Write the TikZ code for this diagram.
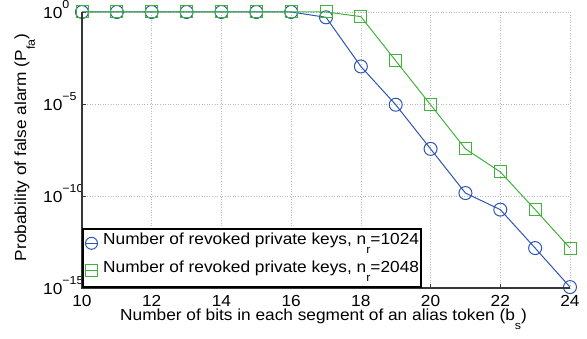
\documentclass[tikz,border=0pt]{standalone}
\usepackage{fontspec}
\setmainfont{Liberation Sans}[FakeStretch=1.08]
\usetikzlibrary{plotmarks}
\definecolor{serA}{RGB}{45,85,180}
\definecolor{serB}{RGB}{65,178,60}
\definecolor{axisgray}{RGB}{55,55,55}
\newcommand{\upidx}[1]{\raisebox{10pt}{\fontsize{11.5}{12}\selectfont #1}}
\newcommand{\dnidx}[1]{\raisebox{-9pt}{\fontsize{11.5}{12}\selectfont #1}}
\begin{document}
\begin{tikzpicture}[x=1pt,y=1pt,
  gridline/.style={gray!55, line width=0.7pt, dash pattern=on 1pt off 1.6pt},
  axisline/.style={axisgray, line width=1.3pt},
  tickmark/.style={axisgray, line width=0.8pt},
  curveA/.style={serA, line width=1pt, mark=o, mark size=6.5pt},
  curveB/.style={serB, line width=1pt, mark=square, mark size=6pt},
  ticklabel/.style={font=\fontsize{16}{18}\selectfont, inner sep=0pt},
  axislabel/.style={font=\fontsize{16}{18}\selectfont, inner sep=0pt},
  legendtext/.style={font=\fontsize{16}{18}\selectfont, inner sep=0pt, anchor=base west},
  legendbox/.style={draw=black, fill=white, line width=1.4pt}]
\useasboundingbox (0,0) rectangle (587,339);

% data area: x in bits, y in decades (log10 of probability)
\begin{scope}[x=34.857pt, y=18.4pt, shift={(-266.57pt,327pt)}]
  % dotted grid
  \foreach \gx in {12,14,...,24} \draw[gridline] (\gx,0) -- (\gx,-15);
  \foreach \gy in {0,-5,-10} \draw[gridline] (10,\gy) -- (24,\gy);

  % tick marks
  \foreach \gx in {12,14,...,22} \draw[tickmark] (\gx,-15) -- ++(0,4pt);
  \foreach \gy in {0,-5,-10} \draw[tickmark] (10,\gy) -- ++(4pt,0);

  % n_r = 1024
  \draw[curveA] plot coordinates {(10,0) (11,0) (12,0) (13,0) (14,0) (15,0) (16,0)
    (17,-0.29) (18,-2.96) (19,-5.04) (20,-7.44) (21,-9.84) (22,-10.74) (23,-12.83) (24,-14.95)};
  % n_r = 2048
  \draw[curveB] plot coordinates {(10,0) (11,0) (12,0) (13,0) (14,0) (15,0) (16,0)
    (17,0) (18,-0.25) (19,-2.65) (20,-5.04) (21,-7.44) (22,-8.69) (23,-10.74) (24,-12.83)};

  % x tick labels
  \foreach \gx in {10,12,...,24}
    \node[ticklabel, anchor=base] (xt\gx) at ([yshift=-18.7pt]\gx,-15) {\gx};
  % y tick labels
  \foreach \gy/\lab in {0/0,-5/−5,-10/−10,-15/−15}
    \node[ticklabel, anchor=base west] (yt\lab) at ([yshift=-6.5pt]10,\gy) [xshift=-39pt] {10\upidx{\lab}};
\end{scope}

% axes
\draw[axisline] (82,327) -- (82,51) -- (570,51);

% legend
\draw[legendbox] (83,52) rectangle (421,110);
\draw[serA, line width=1pt] (85,95.7) -- (98,95.7);
\draw[serA, line width=1pt] (91.5,95.7) circle (6pt);
\draw[serB, line width=1pt] (85,68) -- (98,68);
\draw[serB, line width=1pt] (85.5,62) rectangle (97.5,74);
\node[legendtext] (legA) at (103,94) {Number of revoked private keys, n\dnidx{r}=1024};
\node[legendtext] (legB) at (103,66.3) {Number of revoked private keys, n\dnidx{r}=2048};

% axis titles
\node[axislabel, anchor=base west] (xlab) at (120,18.3)
  {Number of bits in each segment of an alias token (b\dnidx{s})};
\node[axislabel, anchor=base, rotate=90] (ylab) at (26,191.5)
  {Probability of false alarm (P\dnidx{fa})};
\end{tikzpicture}
\end{document}
